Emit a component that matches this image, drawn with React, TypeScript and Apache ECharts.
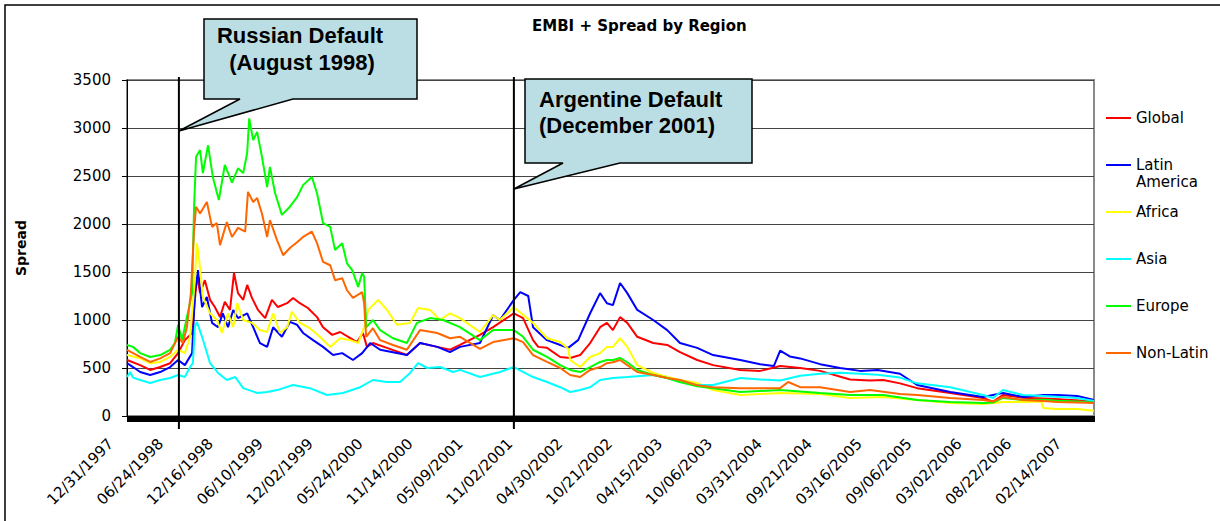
import { useEffect, useRef } from 'react';
import * as echarts from 'echarts';

// x values are trading-day indices counted from 12/31/1997 (125 trading days between labels)
const xTickLabels = [
  '12/31/1997', '06/24/1998', '12/16/1998', '06/10/1999', '12/02/1999', '05/24/2000',
  '11/14/2000', '05/09/2001', '11/02/2001', '04/30/2002', '10/21/2002', '04/15/2003',
  '10/06/2003', '03/31/2004', '09/21/2004', '03/16/2005', '09/06/2005', '03/02/2006',
  '08/22/2006', '02/14/2007',
];
const dayMax = 2422;
const dayStep = 125;

const seriesNames = ['Global', 'Latin America', 'Africa', 'Asia', 'Europe', 'Non-Latin'];
const seriesColors = ['#ff0000', '#0000ff', '#ffff00', '#00ffff', '#00ff00', '#ff6600'];

const globalSpread = [
  [0, 583], [33, 530], [58, 480], [83, 510], [108, 550], [128, 655], [145, 790], [163, 865], [175, 1450],
  [178, 1400], [183, 1280], [195, 1415], [208, 1210], [220, 1135], [233, 1030], [245, 1190], [258, 1105],
  [268, 1490], [278, 1280], [291, 1210], [301, 1365], [313, 1230], [328, 1105], [346, 1020], [363, 1210],
  [378, 1135], [401, 1175], [416, 1230], [433, 1175], [453, 1125], [476, 1030], [491, 925], [514, 845],
  [534, 875], [554, 825], [576, 770], [591, 865], [601, 720], [616, 760], [651, 710], [701, 635], [734, 760],
  [777, 720], [809, 690], [834, 740], [884, 845], [917, 925], [969, 1070], [992, 1020], [1017, 790],
  [1030, 720], [1052, 710], [1085, 615], [1110, 605], [1135, 635], [1160, 760], [1185, 925], [1202, 970],
  [1217, 895], [1235, 1030], [1253, 970], [1278, 825], [1318, 760], [1353, 740], [1385, 665], [1428, 583],
  [1468, 530], [1536, 480], [1586, 470], [1636, 520], [1686, 500], [1736, 470], [1811, 380], [1861, 370],
  [1894, 375], [1936, 340], [1979, 290], [2062, 240], [2144, 188], [2169, 150], [2194, 219], [2244, 190],
  [2312, 180], [2375, 165], [2422, 150],
];
const latinAmericaSpread = [
  [0, 550], [15, 510], [33, 458], [58, 427], [83, 458], [108, 510], [128, 583], [145, 530], [163, 655],
  [170, 1280], [178, 1520], [188, 1135], [200, 1240], [213, 970], [228, 925], [240, 1070], [253, 925],
  [266, 1105], [278, 1020], [301, 1070], [316, 925], [333, 760], [351, 720], [366, 925], [388, 825],
  [408, 980], [426, 950], [441, 865], [466, 790], [491, 720], [516, 635], [539, 655], [566, 583], [589, 655],
  [609, 760], [634, 690], [666, 665], [701, 635], [734, 760], [777, 720], [809, 665], [834, 720], [884, 760],
  [917, 1050], [934, 1000], [969, 1210], [985, 1290], [1005, 1250], [1017, 925], [1052, 790], [1085, 740],
  [1105, 710], [1130, 790], [1160, 1070], [1185, 1280], [1202, 1175], [1217, 1155], [1235, 1385],
  [1253, 1280], [1278, 1105], [1318, 1000], [1353, 895], [1385, 760], [1428, 710], [1468, 635], [1536, 583],
  [1586, 540], [1620, 520], [1636, 680], [1660, 620], [1686, 600], [1736, 540], [1786, 500], [1836, 470],
  [1880, 480], [1936, 440], [1979, 323], [2062, 250], [2144, 198], [2194, 240], [2244, 198], [2295, 219],
  [2330, 219], [2380, 208], [2422, 167],
];
const africaSpread = [
  [0, 635], [33, 600], [58, 550], [83, 563], [108, 615], [128, 690], [145, 655], [158, 825], [170, 1415],
  [175, 1800], [180, 1655], [190, 1240], [208, 1070], [225, 1000], [238, 865], [253, 1070], [266, 925],
  [276, 1175], [291, 1000], [313, 970], [333, 895], [351, 875], [366, 1070], [383, 865], [401, 925],
  [413, 1085], [433, 970], [458, 915], [483, 825], [509, 720], [534, 810], [559, 790], [579, 760], [594, 925],
  [604, 1105], [629, 1210], [651, 1105], [676, 950], [709, 970], [729, 1125], [759, 1105], [784, 1000],
  [809, 1070], [834, 1020], [884, 875], [917, 1050], [934, 1000], [969, 1135], [977, 1105], [1017, 970],
  [1052, 810], [1085, 770], [1105, 700], [1110, 583], [1135, 510], [1160, 615], [1185, 655], [1202, 720],
  [1217, 720], [1235, 810], [1253, 720], [1278, 530], [1318, 448], [1353, 406], [1385, 375], [1428, 344],
  [1468, 270], [1536, 219], [1636, 240], [1736, 230], [1811, 188], [1894, 198], [1979, 167], [2062, 135],
  [2144, 125], [2194, 146], [2244, 146], [2290, 150], [2295, 83], [2330, 73], [2380, 73], [2422, 55],
];
const asiaSpread = [
  [0, 406], [8, 458], [15, 400], [33, 375], [58, 344], [83, 375], [108, 396], [128, 427], [145, 406],
  [158, 510], [165, 550], [170, 925], [175, 980], [188, 825], [208, 550], [228, 448], [250, 375], [271, 406],
  [291, 290], [326, 240], [351, 250], [376, 270], [416, 323], [458, 290], [501, 219], [541, 240], [584, 300],
  [616, 375], [651, 354], [684, 354], [709, 448], [729, 550], [752, 500], [784, 510], [817, 458], [834, 480],
  [884, 406], [934, 458], [969, 510], [1017, 406], [1052, 354], [1085, 300], [1110, 250], [1135, 270],
  [1160, 300], [1185, 375], [1217, 396], [1253, 406], [1318, 427], [1353, 396], [1385, 354], [1428, 323],
  [1468, 323], [1536, 396], [1586, 380], [1636, 370], [1686, 420], [1736, 440], [1786, 450], [1836, 440],
  [1880, 430], [1936, 400], [1979, 340], [2062, 300], [2144, 219], [2169, 188], [2194, 270], [2244, 219],
  [2295, 208], [2330, 200], [2380, 188], [2422, 156],
];
const europeSpread = [
  [0, 740], [15, 720], [33, 655], [58, 615], [83, 635], [108, 690], [120, 760], [128, 950], [138, 790],
  [150, 1030], [163, 1280], [168, 2180], [173, 2700], [183, 2770], [190, 2530], [203, 2820], [215, 2490],
  [230, 2250], [245, 2615], [263, 2430], [278, 2580], [291, 2530], [301, 2740], [306, 3100], [316, 2875],
  [326, 2960], [338, 2700], [351, 2385], [358, 2595], [371, 2320], [388, 2095], [408, 2180], [426, 2280],
  [441, 2405], [463, 2490], [476, 2320], [491, 2010], [509, 1970], [521, 1730], [539, 1800], [551, 1590],
  [564, 1520], [579, 1345], [589, 1490], [594, 1450], [599, 925], [616, 1000], [634, 895], [666, 810],
  [701, 760], [726, 970], [759, 1020], [792, 1000], [834, 925], [884, 790], [917, 895], [969, 895],
  [992, 825], [1017, 690], [1052, 615], [1085, 530], [1110, 480], [1135, 458], [1160, 510], [1185, 563],
  [1202, 583], [1217, 583], [1235, 605], [1253, 560], [1278, 480], [1318, 427], [1353, 396], [1385, 354],
  [1428, 310], [1468, 290], [1536, 250], [1636, 270], [1736, 240], [1811, 219], [1894, 219], [1979, 167],
  [2062, 146], [2144, 135], [2169, 140], [2194, 188], [2244, 167], [2295, 170], [2330, 160], [2380, 150],
  [2422, 140],
];
const nonLatinSpread = [
  [0, 690], [33, 615], [58, 563], [83, 600], [108, 655], [128, 825], [140, 760], [150, 925], [160, 1280],
  [168, 1940], [173, 2180], [183, 2110], [200, 2230], [213, 1970], [225, 2010], [233, 1780], [250, 2020],
  [263, 1865], [278, 1960], [296, 1920], [303, 2335], [316, 2230], [326, 2270], [338, 2110], [351, 1865],
  [358, 2040], [376, 1830], [391, 1675], [408, 1750], [426, 1810], [441, 1865], [463, 1920], [476, 1800],
  [491, 1605], [509, 1570], [521, 1415], [539, 1435], [551, 1310], [566, 1230], [589, 1290], [594, 1175],
  [599, 825], [616, 915], [634, 790], [666, 740], [701, 690], [734, 895], [777, 865], [809, 810], [834, 825],
  [884, 700], [917, 770], [969, 810], [992, 770], [1017, 635], [1052, 563], [1085, 500], [1110, 427],
  [1135, 406], [1160, 480], [1185, 510], [1202, 550], [1217, 560], [1235, 583], [1253, 530], [1278, 458],
  [1318, 427], [1353, 396], [1385, 375], [1428, 320], [1468, 300], [1536, 290], [1636, 290], [1656, 354],
  [1686, 300], [1736, 300], [1811, 250], [1861, 270], [1936, 230], [1979, 219], [2062, 188], [2144, 167],
  [2169, 150], [2194, 198], [2244, 167], [2295, 156], [2330, 146], [2380, 140], [2422, 135],
];

const seriesData = [globalSpread, latinAmericaSpread, africaSpread, asiaSpread, europeSpread, nonLatinSpread];

// annotation events (trading-day position where the marker line is drawn)
const eventDays = [130, 969];
const eventTitles = ['Russian Default', 'Argentine Default'];
const eventSubtitles = ['(August 1998)', '(December 2001)'];

const AXIS_FONT = '"DejaVu Sans", Verdana, sans-serif';
const CALLOUT_FONT = 'bold 22px "Liberation Sans", Arial, sans-serif';

export default function App() {
  const ref = useRef<HTMLDivElement>(null);

  useEffect(() => {
    if (!ref.current) return;
    const chart = echarts.init(ref.current, undefined, { renderer: 'svg' });
    chart.setOption({
      animation: false,
      backgroundColor: '#ffffff',
      title: {
        text: 'EMBI + Spread by Region',
        left: 527,
        top: 13,
        textStyle: { fontFamily: AXIS_FONT, fontWeight: 'bold', fontSize: 15, color: '#000' },
      },
      grid: {
        left: 127, right: 126, top: 80, bottom: 105,
        show: true, borderColor: '#8a8a8a', borderWidth: 2, backgroundColor: 'transparent',
      },
      xAxis: {
        type: 'value',
        min: 0,
        max: dayMax,
        interval: dayStep,
        axisLine: { show: true, onZero: false, lineStyle: { color: '#000', width: 1 } },
        axisTick: { show: true, length: 6, lineStyle: { color: '#000', width: 1 } },
        minorTick: { show: true, splitNumber: 50, length: 6, lineStyle: { color: '#000', width: 1 } },
        splitLine: { show: false },
        minorSplitLine: { show: false },
        axisLabel: {
          formatter: (v: number) =>
            v % dayStep === 0 && xTickLabels[v / dayStep] ? `${xTickLabels[v / dayStep]}{gap|}` : '',
          rich: { gap: { width: 23 } },
          rotate: 45,
          margin: 9,
          fontFamily: AXIS_FONT,
          fontSize: 15,
          color: '#000',
        },
      },
      yAxis: {
        type: 'value',
        min: 0,
        max: 3500,
        interval: 500,
        name: 'Spread',
        nameLocation: 'middle',
        nameGap: 99,
        nameTextStyle: { fontFamily: AXIS_FONT, fontWeight: 'bold', fontSize: 14, color: '#000' },
        axisLine: { show: true, lineStyle: { color: '#000', width: 1 } },
        axisTick: { show: true, length: 5, lineStyle: { color: '#000' } },
        axisLabel: {
          margin: 16, fontFamily: AXIS_FONT, fontSize: 15, color: '#000',
          formatter: (v: number) => String(v),
        },
        splitLine: { show: true, lineStyle: { color: '#444', width: 1 } },
      },
      series: seriesNames.map((name, i) => ({
        name,
        type: 'line',
        data: seriesData[i],
        showSymbol: false,
        symbol: 'none',
        color: seriesColors[i],
        lineStyle: { color: seriesColors[i], width: 2 },
        z: 2 + i,
      })),
    });

    const px = eventDays.map((d) => chart.convertToPixel({ xAxisIndex: 0 }, d) as number);
    const legendItems: any[] = [];
    seriesNames.forEach((name, i) => {
      const y = 118 + 47 * i;
      legendItems.push({
        type: 'line',
        shape: { x1: 1106, y1: y, x2: 1131, y2: y },
        style: { stroke: seriesColors[i], lineWidth: 2 },
        silent: true,
      });
      legendItems.push({
        type: 'text',
        x: 1136,
        y: y - 8.5,
        style: {
          text: name === 'Latin America' ? 'Latin\nAmerica' : name,
          font: `15px ${AXIS_FONT}`,
          fill: '#000',
          lineHeight: 17,
          align: 'left', verticalAlign: 'top', textAlign: 'left', textVerticalAlign: 'top',
        },
        silent: true,
      });
    });

    const calloutText = (text: string, x: number, y: number, align: string) => ({
      type: 'text',
      x, y,
      z: 110,
      style: {
        text, font: CALLOUT_FONT, fill: '#000',
        align, verticalAlign: 'middle', textAlign: align, textVerticalAlign: 'middle',
      },
      silent: true,
    });

    chart.setOption({
      graphic: [
        {
          type: 'rect', z: -1, silent: true,
          shape: { x: 5, y: 5, width: 1400, height: 800 },
          style: { fill: 'none', stroke: '#000', lineWidth: 1.5 },
        },
        ...px.map((x) => ({
          type: 'line', z: 100, silent: true,
          shape: { x1: x, y1: 77, x2: x, y2: 429 },
          style: { stroke: '#000', lineWidth: 2 },
        })),
        {
          type: 'polygon', z: 105, silent: true,
          shape: { points: [[204, 19], [417, 19], [417, 99], [293, 99], [px[0], 131], [240, 99], [204, 99]] },
          style: { fill: '#badee3', stroke: '#000', lineWidth: 1.5 },
        },
        {
          type: 'polygon', z: 105, silent: true,
          shape: { points: [[525, 79], [752, 79], [752, 163], [620, 163], [px[1], 189], [563, 163], [525, 163]] },
          style: { fill: '#badee3', stroke: '#000', lineWidth: 1.5 },
        },
        calloutText(eventTitles[0], 300, 35.5, 'center'),
        calloutText(eventSubtitles[0], 302, 62.5, 'center'),
        calloutText(eventTitles[1], 539, 99.5, 'left'),
        calloutText(eventSubtitles[1], 539, 125.5, 'left'),
        ...legendItems,
      ],
    });

    return () => chart.dispose();
  }, []);

  return <div ref={ref} style={{ position: 'fixed', left: 0, top: 0, width: 1220, height: 521 }} />;
}
